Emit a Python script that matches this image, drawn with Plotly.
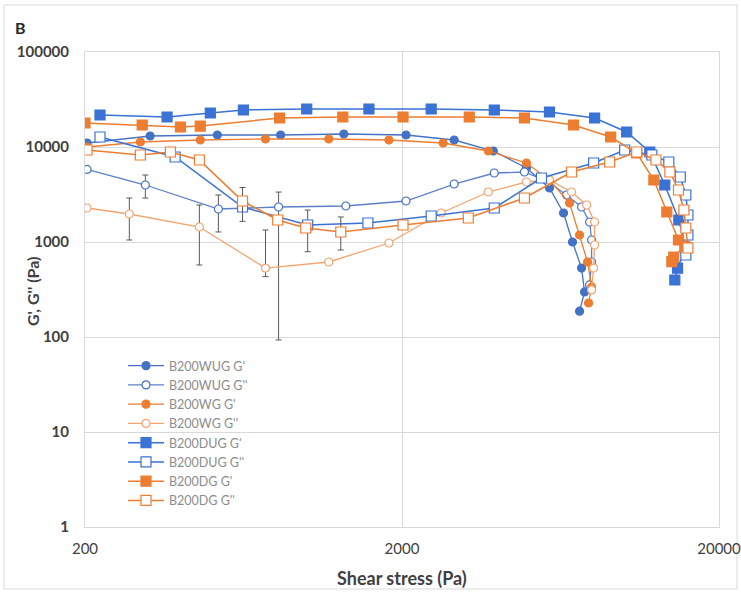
import plotly.graph_objects as go

# ---------------- data ----------------
wug_gp_x = [203, 321, 523, 828, 1311, 2059, 2922, 3882, 4938, 5838, 6466, 6900, 7370, 7532, 7263]
wug_gp_y = [11020, 13060, 13380, 13380, 13710, 13380, 11850, 9076, 6012, 3701, 2019, 1000, 532, 298, 187]

wug_gpp_x = [203, 310, 527, 816, 1330, 2059, 2922, 3910, 4866, 5800, 6608, 7370, 7812, 7927, 7927, 7812]
wug_gpp_y = [5800, 3981, 2225, 2336, 2393, 2701, 4077, 5324, 5456, 4280, 3124, 2336, 1624, 1050, 616, 353]
wug_gpp_err_p = [0, 1090, 900, 1020, 0, 0, 0, 0, 0, 0, 0, 0, 0, 0, 0, 0]
wug_gpp_err_m = [0, 1080, 950, 2243, 0, 0, 0, 0, 0, 0, 0, 0, 0, 0, 0, 0]

wg_gp_x = [203, 299, 462, 742, 1175, 1819, 2697, 3743, 4938, 5838, 6754, 7263, 7700, 7927, 7755]
wg_gp_y = [10000, 11290, 11850, 12140, 12140, 11850, 11020, 9076, 6785, 4493, 2573, 1185, 616, 336, 228]

wg_gpp_x = [203, 276, 459, 742, 1175, 1819, 2658, 3743, 4938, 5838, 6852, 7650, 8103, 8103, 8044, 7927]
wg_gpp_y = [2280, 1971, 1438, 532, 616, 976, 2019, 3359, 4280, 4493, 3359, 2452, 1624, 930, 532, 313]
wg_gpp_err_p = [0, 933, 1014, 806, 0, 0, 0, 0, 0, 0, 0, 0, 0, 0, 0, 0]
wg_gpp_err_m = [0, 921, 865, 100, 0, 0, 0, 0, 0, 0, 0, 0, 0, 0, 0, 0]

dug_gp_x = [223, 363, 497, 632, 1001, 1573, 2472, 3910, 5838, 8103, 10230, 12100, 13490, 14940, 15720, 14800, 14510]
dug_gp_y = [21710, 20700, 22790, 24520, 25120, 25120, 25120, 24520, 23360, 20200, 14390, 8858, 3981, 1704, 865, 532, 398]

dug_gpp_x = [223, 385, 628, 1008, 1561, 2472, 3910, 5508, 8044, 10080, 12280, 13890, 15100, 15720, 15960, 15960, 15720]
dug_gpp_y = [12740, 7846, 2336, 1510, 1585, 1878, 2280, 4716, 6785, 9300, 8236, 6951, 4832, 3124, 1924, 1185, 730]
dug_gpp_err_p = [0, 0, 0, 660, 0, 0, 0, 0, 0, 0, 0, 0, 0, 0, 0, 0, 0]
dug_gpp_err_m = [0, 0, 0, 720, 0, 0, 0, 0, 0, 0, 0, 0, 0, 0, 0, 0, 0]

dg_gp_x = [200, 303, 400, 462, 822, 1301, 2015, 3260, 4866, 6953, 9104, 11000, 12460, 13690, 14900, 15600, 14400, 14200]
dg_gp_y = [17890, 17040, 16240, 16600, 20200, 20700, 20700, 20700, 20200, 17040, 12740, 8645, 4493, 2069, 1050, 900, 695, 620]

dg_gpp_x = [203, 299, 372, 459, 628, 811, 994, 1282, 2015, 3237, 4866, 6852, 9038, 11000, 12650, 14000, 14900, 15500, 15720, 15960]
dg_gpp_y = [9300, 8236, 8858, 7298, 2700, 1704, 1404, 1274, 1510, 1789, 2904, 5456, 6951, 8858, 7298, 5456, 3526, 2172, 1404, 865]
dg_gpp_err_p = [0, 0, 0, 500, 1050, 0, 0, 560, 0, 0, 0, 0, 0, 0, 0, 0, 0, 0, 0, 0]
dg_gpp_err_m = [0, 0, 0, 500, 1050, 0, 0, 450, 0, 0, 0, 0, 0, 0, 0, 0, 0, 0, 0, 0]

x_ticks = [200, 2000, 20000]
y_ticks = [1, 10, 100, 1000, 10000, 100000]

BLUE = "#4472C4"
BLUE2 = "#3A72D6"
ORANGE = "#ED7D31"
ORANGE_L = "#F4A46E"
ERRC = "#595959"

fig = go.Figure()

def add(name, x, y, color, symbol, size, filled, lw, ep=None, em=None, linecolor=None):
    kw = {}
    if ep is not None:
        kw["error_y"] = dict(type="data", symmetric=False, array=ep, arrayminus=em,
                             color=ERRC, thickness=1, width=3)
    fig.add_trace(go.Scatter(
        x=x, y=y, name=name, mode="lines+markers",
        line=dict(color=linecolor or color, width=lw),
        marker=dict(symbol=symbol, size=size,
                    color=color if filled else "white",
                    line=dict(color=color, width=1.2)),
        **kw))

add("B200WUG G'", wug_gp_x, wug_gp_y, BLUE, "circle", 8, True, 1.3)
add("B200WUG G''", wug_gpp_x, wug_gpp_y, BLUE, "circle", 8, False, 1.3,
    wug_gpp_err_p, wug_gpp_err_m, linecolor="#5B80C6")
add("B200WG G'", wg_gp_x, wg_gp_y, ORANGE, "circle", 8, True, 1.3)
add("B200WG G''", wg_gpp_x, wg_gpp_y, ORANGE_L, "circle", 8, False, 1.3,
    wg_gpp_err_p, wg_gpp_err_m)
add("B200DUG G'", dug_gp_x, dug_gp_y, BLUE2, "square", 10, True, 1.5)
add("B200DUG G''", dug_gpp_x, dug_gpp_y, BLUE2, "square", 10, False, 1.5,
    dug_gpp_err_p, dug_gpp_err_m)
add("B200DG G'", dg_gp_x, dg_gp_y, ORANGE, "square", 10, True, 1.5)
add("B200DG G''", dg_gpp_x, dg_gpp_y, ORANGE, "square", 10, False, 1.5,
    dg_gpp_err_p, dg_gpp_err_m)

FONT = "Lato, 'Open Sans', sans-serif"

W, H = 741, 592
ML, MR, MT, MB = 85, 22, 52, 65
PW, PH = W - ML - MR, H - MT - MB


def px(xp):
    return (xp - ML) / PW


def py(yp):
    return (H - MB - yp) / PH


fig.update_layout(
    width=W, height=H,
    margin=dict(l=ML, r=MR, t=MT, b=MB, autoexpand=False),
    paper_bgcolor="white", plot_bgcolor="white",
    font=dict(family=FONT, color="#404040"),
    showlegend=True,
    legend=dict(x=px(123), y=py(351), xanchor="left", yanchor="top",
                bgcolor="rgba(255,255,255,0)", borderwidth=0,
                font=dict(size=12.5, color="#8c8c8c", family=FONT),
                tracegroupgap=0, itemwidth=36),
    xaxis=dict(type="log", range=[2.30103, 4.30103],
               tickvals=x_ticks, ticktext=[str(v) for v in x_ticks],
               showgrid=True, gridcolor="#d9d9d9", gridwidth=1,
               showline=True, linecolor="#d9d9d9", mirror=True,
               zeroline=False, ticks="outside", ticklen=8, tickcolor="rgba(0,0,0,0)",
               ticklabeloverflow="allow",
               tickfont=dict(size=15, color="#404040", family=FONT)),
    yaxis=dict(type="log", range=[0, 5],
               tickvals=y_ticks, ticktext=["<b>%d</b>" % v for v in y_ticks],
               showgrid=True, gridcolor="#d9d9d9", gridwidth=1,
               showline=True, linecolor="#d9d9d9", mirror=True,
               zeroline=False, ticks="outside", ticklen=12, tickcolor="rgba(0,0,0,0)",
               ticklabeloverflow="allow",
               tickfont=dict(size=15, color="#404040", family=FONT)),
    annotations=[
        dict(text="<b>B</b>", xref="paper", yref="paper",
             x=px(13), y=py(28), xanchor="left", yanchor="middle", showarrow=False,
             font=dict(size=16, color="#262626", family=FONT)),
        dict(text="<b>G', G'' (Pa)</b>", xref="paper", yref="paper", textangle=-90,
             x=px(32), y=py(291), xanchor="center", yanchor="middle", showarrow=False,
             font=dict(size=16, color="#404040", family=FONT)),
        dict(text="<b>Shear stress (Pa)</b>", xref="paper", yref="paper",
             x=px(402), y=py(578), xanchor="center", yanchor="middle", showarrow=False,
             font=dict(size=18, color="#404040", family=FONT)),
    ],
    shapes=[dict(type="rect", xref="paper", yref="paper",
                 x0=px(4), x1=px(737), y0=py(589), y1=py(5),
                 line=dict(color="#d9d9d9", width=1), layer="below")],
)

fig.write_html(
    "out.html",
    config={"displayModeBar": False},
    post_script="document.body.style.margin='0';document.body.style.overflow='hidden';",
)
